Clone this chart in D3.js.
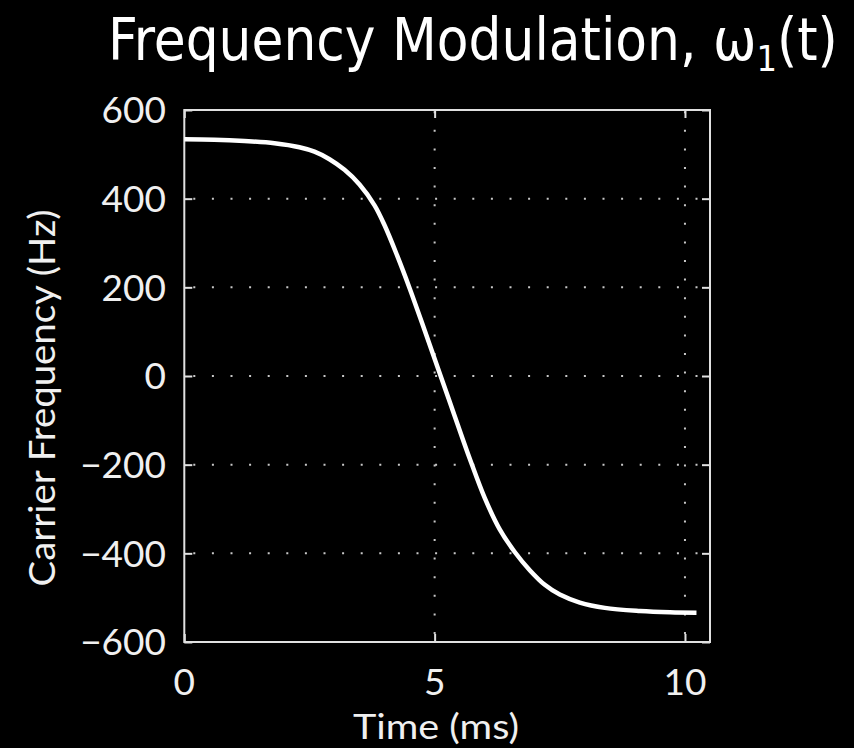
<!DOCTYPE html>
<html>
<head>
<meta charset="utf-8">
<script src="https://cdn.jsdelivr.net/npm/d3@7"></script>
<style>
  html, body { margin: 0; padding: 0; background: #000; }
  svg { display: block; }
</style>
</head>
<body>
<svg id="chart" width="854" height="748"></svg>
<script>
// ---- data ----
const timeMs = [0, 0.6, 1.2, 1.8, 2.3, 2.6, 2.9, 3.2, 3.5, 3.8, 4.0, 4.25, 4.5, 4.8, 5.12,
                5.4, 5.7, 6.0, 6.3, 6.6, 6.9, 7.2, 7.5, 7.9, 8.4, 9.1, 9.7, 10.23];
const carrierHz = [534, 533, 530, 525, 516, 506, 489, 465, 432, 385, 340, 272, 198, 103, 0,
                   -90, -186, -275, -346, -397, -438, -471, -493, -511, -523, -530, -533, -534];
const xTicks = [0, 5, 10];
const yTicks = [-600, -400, -200, 0, 200, 400, 600];
const xGrid = [5, 10];
const yGrid = [-400, -200, 0, 200, 400];
const titleMain = "Frequency Modulation, ω";
const titleSub = "1";
const titleEnd = "(t)";
const xLabel = "Time (ms)";
const yLabel = "Carrier Frequency (Hz)";

const svg = d3.select("#chart");
svg.append("rect").attr("width", 854).attr("height", 748).attr("fill", "#000");

const L = 184.3, R = 710, T = 110, B = 642;
const x = d3.scaleLinear().domain([0, 10.5]).range([L, R]);
const y = d3.scaleLinear().domain([-600, 600]).range([B, T]);

const frameColor = "#e0e0e0";
const gridColor = "#c8c8c8";
const labelFont = "Lato, 'Open Sans', sans-serif";
const labelColor = "#f0f0f0";

// grid
const g = svg.append("g");
g.selectAll(".hg").data(yGrid).join("line")
  .attr("x1", L).attr("x2", R)
  .attr("y1", d => y(d)).attr("y2", d => y(d))
  .attr("stroke", gridColor).attr("stroke-width", 2)
  .attr("stroke-dasharray", "2 16.6").attr("stroke-dashoffset", -9);
g.selectAll(".vg").data(xGrid).join("line")
  .attr("y1", B).attr("y2", T)
  .attr("x1", d => x(d)).attr("x2", d => x(d))
  .attr("stroke", gridColor).attr("stroke-width", 2)
  .attr("stroke-dasharray", "2 16.6").attr("stroke-dashoffset", -8);

// axes with inward ticks
const tickLen = 8;
const axL = d3.axisLeft(y).tickValues(yTicks).tickSize(-tickLen).tickFormat("");
const axR = d3.axisRight(y).tickValues(yTicks).tickSize(-tickLen).tickFormat("");
const axB = d3.axisBottom(x).tickValues(xTicks).tickSize(-tickLen).tickFormat("");
const axT = d3.axisTop(x).tickValues(xTicks).tickSize(-tickLen).tickFormat("");
function styleAxis(sel) {
  sel.select(".domain").remove();
  sel.selectAll(".tick line").attr("stroke", frameColor).attr("stroke-width", 2);
}
svg.append("g").attr("transform", `translate(${L},0)`).call(axL).call(styleAxis);
svg.append("g").attr("transform", `translate(${R},0)`).call(axR).call(styleAxis);
svg.append("g").attr("transform", `translate(0,${B})`).call(axB).call(styleAxis);
svg.append("g").attr("transform", `translate(0,${T})`).call(axT).call(styleAxis);

// frame
svg.append("rect").attr("x", L).attr("y", T).attr("width", R - L).attr("height", B - T)
  .attr("fill", "none").attr("stroke", frameColor).attr("stroke-width", 2);

// tick labels
const fmt = d3.format("d");
svg.append("g").selectAll("text").data(yTicks).join("text")
  .attr("x", 166).attr("y", d => y(d)).attr("dy", "0.36em")
  .attr("text-anchor", "end").attr("fill", labelColor)
  .attr("font-family", labelFont).attr("font-size", 37)
  .text(d => fmt(d));
svg.append("g").selectAll("text").data(xTicks).join("text")
  .attr("x", d => x(d)).attr("y", 695)
  .attr("text-anchor", "middle").attr("fill", labelColor)
  .attr("font-family", labelFont).attr("font-size", 37)
  .text(d => fmt(d));

// axis labels
svg.append("text").attr("x", 436).attr("y", 739)
  .attr("text-anchor", "middle").attr("fill", labelColor)
  .attr("font-family", labelFont).attr("font-size", 35)
  .attr("textLength", 166).attr("lengthAdjust", "spacingAndGlyphs")
  .text(xLabel);
svg.append("text").attr("transform", "translate(55,398) rotate(-90)")
  .attr("text-anchor", "middle").attr("fill", labelColor)
  .attr("font-family", labelFont).attr("font-size", 36)
  .attr("textLength", 377).attr("lengthAdjust", "spacingAndGlyphs")
  .text(yLabel);

// title
const title = svg.append("text").attr("x", 0).attr("y", 0)
  .attr("fill", "#fff")
  .attr("font-family", "'DejaVu Sans Condensed', 'DejaVu Sans', sans-serif")
  .attr("font-size", 58);
title.append("tspan").text(titleMain);
title.append("tspan").attr("font-size", 36).attr("dy", 11).text(titleSub);
title.append("tspan").attr("dy", -11).text(titleEnd);
const bb = title.node().getBBox();
const sx = 730 / bb.width;
title.attr("transform", `translate(${108 - bb.x * sx},60) scale(${sx},1)`);

// curve
const pts = timeMs.map((t, i) => [t, carrierHz[i]]);
const line = d3.line().x(d => x(d[0])).y(d => y(d[1])).curve(d3.curveCatmullRom.alpha(0.5));
svg.append("path").datum(pts).attr("d", line)
  .attr("fill", "none").attr("stroke", "#fff").attr("stroke-width", 4.5)
  .attr("stroke-linecap", "butt");
</script>
</body>
</html>
